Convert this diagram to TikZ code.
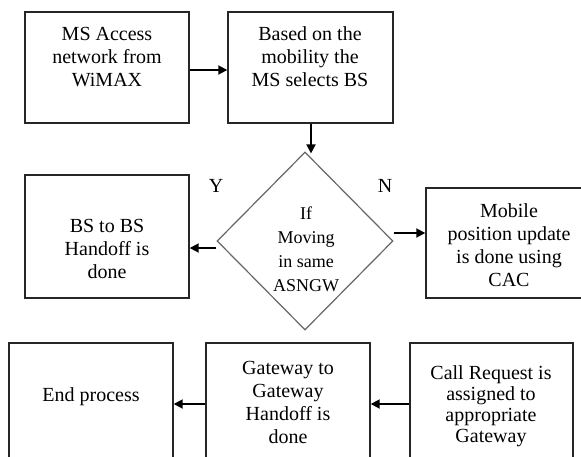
\documentclass[tikz,border=0pt]{standalone}
\usepackage{fontspec}
\setmainfont{Liberation Serif}
\usetikzlibrary{arrows.meta,shapes.geometric}
\begin{document}
\begin{tikzpicture}[x=1pt,y=-1pt,
  box/.style={draw=black!85, line width=1.4pt, inner sep=0pt},
  txt/.style={font=\fontsize{20}{23}\selectfont, align=center, inner sep=0pt},
  flow/.style={-{Triangle[length=9pt,width=9pt]}, line width=1.8pt, black},
  yn/.style={font=\fontsize{20}{23}\selectfont, inner sep=0pt}]
\useasboundingbox (0,0) rectangle (581,456);

% process boxes
\node[box, minimum width=164pt, minimum height=111pt] (A) at (107,67.5) {};
\node[box, minimum width=165pt, minimum height=111pt] (B) at (310.5,67.5) {};
\node[box, minimum width=164pt, minimum height=123pt] (C) at (107,236.5) {};
\node[box, minimum width=166pt, minimum height=110pt] (D) at (509,243) {};
\node[box, minimum width=164pt, minimum height=118pt] (E) at (91,402) {};
\node[box, minimum width=164pt, minimum height=118pt] (G) at (288,402) {};
\node[box, minimum width=163pt, minimum height=118pt] (R) at (491.5,402) {};

% decision
\node[diamond, draw=black!60, line width=1.2pt, inner sep=0pt,
      minimum width=176pt, minimum height=178pt] (dia) at (305,241) {};

% texts
\node[txt] (At) at (107,57) {MS Access\\network from\\WiMAX};
\node[txt] (Bt) at (310,57) {Based on the\\mobility the\\MS selects BS};
\node[txt] (Ct) at (107,249) {BS to BS\\Handoff is\\done};
\node[txt] (Dt) at (509,245) {Mobile\\position update\\is done using\\CAC};
\node[txt, font=\fontsize{18}{24}\selectfont] (diat) at (306,249) {If\\Moving\\in same\\ASNGW};
\node[txt] (Et) at (91,397) {End process};
\node[txt] (Gt) at (288,402) {Gateway to\\Gateway\\Handoff is\\done};
\node[txt, font=\fontsize{20}{21}\selectfont] (Rt) at (491,406) {Call Request is\\assigned to\\appropriate\\Gateway};

\node[yn] (Y) at (216,186) {Y};
\node[yn] (N) at (385,186) {N};

% connectors
\draw[flow] ([yshift=-2.5pt]A.east) -- ([yshift=-2.5pt]B.west);
\draw[flow] ([xshift=0.5pt]B.south) -- ([xshift=0.5pt,yshift=-2pt]B.south |- dia.north);
\draw[flow] ([yshift=-7pt]dia.west) -- ([yshift=-7pt]dia.west -| C.east);
\draw[flow] ([yshift=8pt]dia.east) -- ([yshift=8pt]dia.east -| D.west);
\draw[flow] ([yshift=-2pt]R.west) -- ([yshift=-2pt]G.east);
\draw[flow] ([yshift=-2pt]G.west) -- ([yshift=-2pt]E.east);
\end{tikzpicture}
\end{document}
